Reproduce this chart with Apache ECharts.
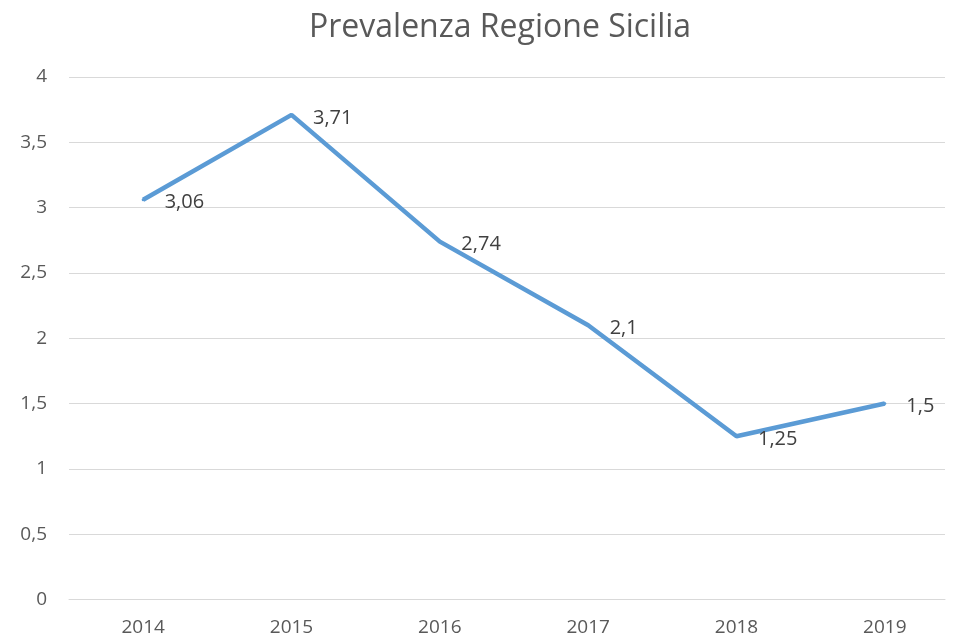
<!DOCTYPE html>
<html>
<head>
<meta charset="utf-8">
<script src="https://cdn.jsdelivr.net/npm/echarts@6/dist/echarts.min.js"></script>
<style>
html, body { margin: 0; padding: 0; background: #fff; }
#chart { width: 959px; height: 643px; }
</style>
</head>
<body>
<div id="chart"></div>
<script>
// dati
const anni = ['2014', '2015', '2016', '2017', '2018', '2019'];
const prevalenza = [3.06, 3.71, 2.74, 2.1, 1.25, 1.5];
const yMin = 0;
const yMax = 4;
const yStep = 0.5;

const chart = echarts.init(document.getElementById('chart'));

const fmt = v => String(v).replace('.', ',');
const grigio = '#595959';
const linee = '#d9d9d9';

// la griglia 0 disegna le linee orizzontali, la griglia 1 la serie e le etichette degli anni
const option = {
    animation: false,
    textStyle: { fontFamily: 'Open Sans, Liberation Sans, sans-serif' },
    title: {
        text: 'Prevalenza Regione Sicilia',
        left: 304,
        top: 7,
        textStyle: { color: grigio, fontSize: 32, fontWeight: 'normal' }
    },
    grid: [
        { left: 69, right: 14, top: 77, bottom: 43.5 },
        { left: 69, width: 892, top: 77, bottom: 43.5 }
    ],
    xAxis: [
        {
            gridIndex: 0,
            type: 'category',
            data: anni,
            axisLine: { lineStyle: { color: linee } },
            axisTick: { show: false },
            axisLabel: { show: false }
        },
        {
            gridIndex: 1,
            type: 'category',
            data: anni,
            boundaryGap: true,
            axisLine: { show: false },
            axisTick: { show: false },
            axisLabel: { color: grigio, fontSize: 19, margin: 19 }
        }
    ],
    yAxis: [
        {
            gridIndex: 0,
            type: 'value',
            min: yMin,
            max: yMax,
            interval: yStep,
            axisLine: { show: false },
            axisTick: { show: false },
            splitLine: { lineStyle: { color: linee } },
            axisLabel: { color: grigio, fontSize: 19, margin: 22, formatter: fmt }
        },
        {
            gridIndex: 1,
            type: 'value',
            min: yMin,
            max: yMax,
            interval: yStep,
            show: false,
            splitLine: { show: false }
        }
    ],
    series: [{
        type: 'line',
        xAxisIndex: 1,
        yAxisIndex: 1,
        data: prevalenza,
        symbol: 'circle',
        symbolSize: 3,
        showSymbol: true,
        lineStyle: { color: '#5b9bd5', width: 4.5 },
        itemStyle: { color: '#5b9bd5' },
        label: {
            show: true,
            position: 'right',
            distance: 20,
            offset: [0, 3],
            color: '#404040',
            fontSize: 20,
            formatter: p => fmt(p.value)
        }
    }]
};

chart.setOption(option);
</script>
</body>
</html>
